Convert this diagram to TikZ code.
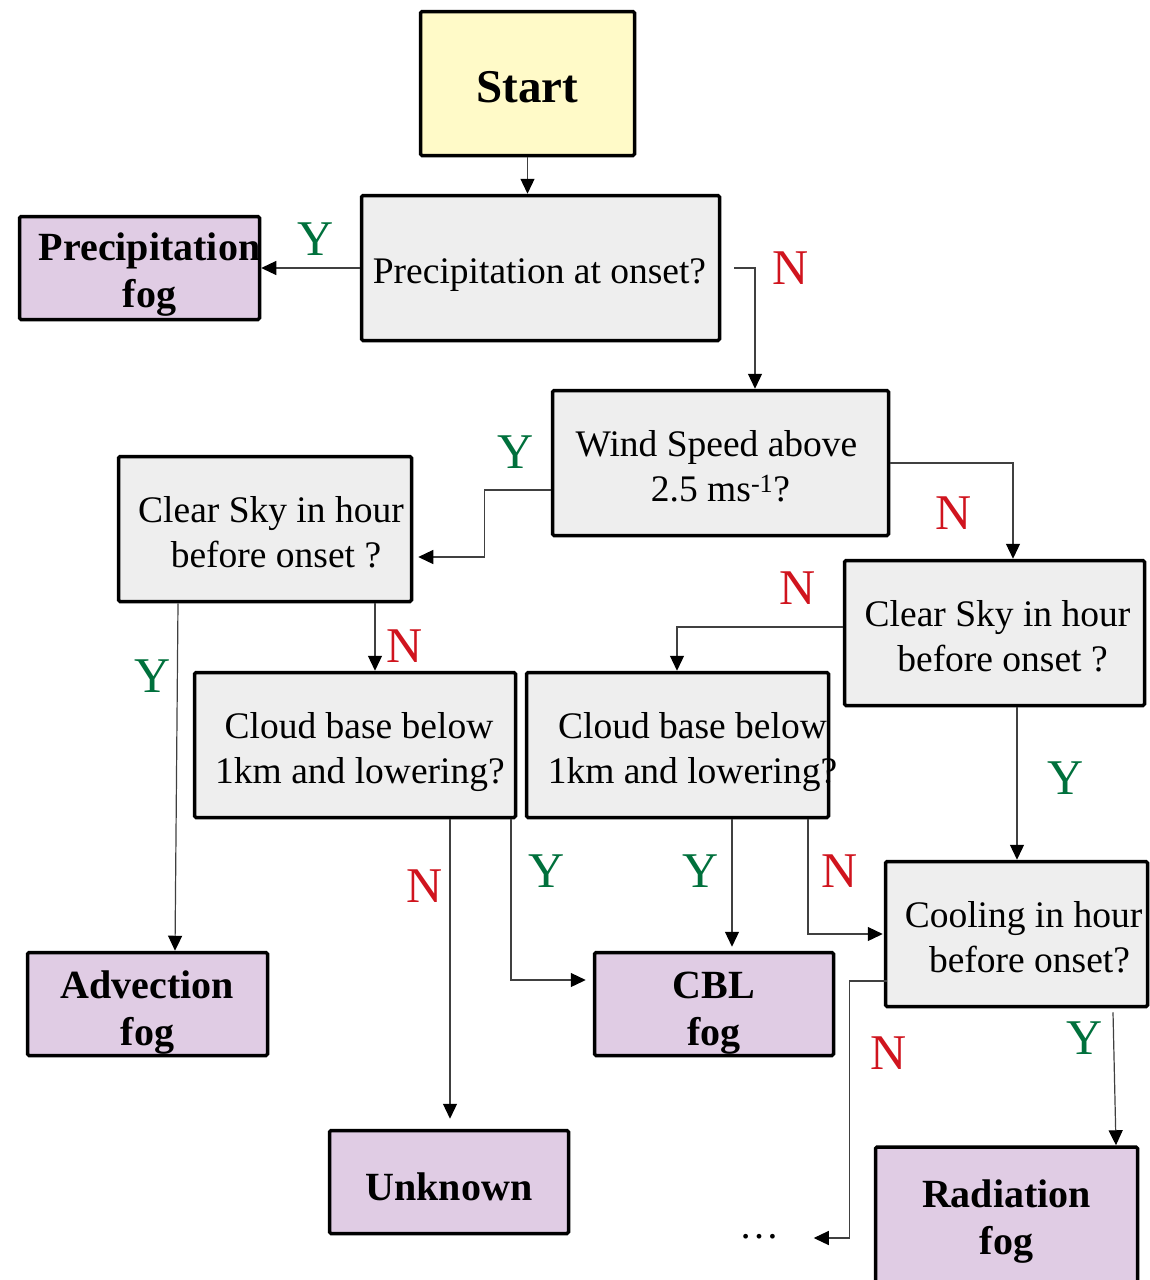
\documentclass[tikz,border=0pt]{standalone}
\usepackage{fontspec}
\setmainfont{Liberation Serif}
\usetikzlibrary{arrows.meta,calc}
\definecolor{startfill}{HTML}{FFFAC8}
\definecolor{qfill}{HTML}{EEEEEE}
\definecolor{fogfill}{HTML}{E0CCE4}
\definecolor{ygreen}{HTML}{00703C}
\definecolor{nred}{HTML}{D0141E}
\definecolor{conncol}{HTML}{404040}
% shift a line of text sideways without changing its width
\newcommand\sh[2]{\hspace*{#1}#2\hspace*{-#1}}
% invisible strut that pushes the text block down
\newcommand\upad[1]{\rule{0pt}{#1}}
\begin{document}
\begin{tikzpicture}[x=1pt,y=-1pt,
  box/.style={draw=black,line width=3.5pt,rounded corners=1.5pt,inner sep=0pt,align=center},
  qbox/.style={box,fill=qfill,font=\fontsize{37.5}{45}\selectfont},
  fogbox/.style={box,fill=fogfill,font=\fontsize{40}{47}\selectfont\bfseries},
  conn/.style={draw=conncol,line width=1.2pt,-{Triangle[length=15pt,width=14pt,color=black]}},
  ylab/.style={text=ygreen,font=\fontsize{50}{50}\selectfont,inner sep=0pt},
  nlab/.style={text=nred,font=\fontsize{50}{50}\selectfont,inner sep=0pt}]
\useasboundingbox (0,0) rectangle (1149,1280);

% boxes
\node[box,fill=startfill,minimum width=214pt,minimum height=144pt,font=\fontsize{47}{50}\selectfont\bfseries] (start) at (527.5,83.5) {\upad{39pt}Start};
\node[qbox,minimum width=358pt,minimum height=145pt] (q1) at (540.5,268) {\upad{38pt}\sh{-1pt}{Precipitation at onset?}};
\node[fogbox,minimum width=240pt,minimum height=103pt] (pfog) at (139.5,268) {\upad{40pt}\sh{10pt}{Precipitation}\\\sh{10pt}{fog}};
\node[qbox,minimum width=336pt,minimum height=145pt] (q2) at (720.5,463) {\upad{32pt}\sh{-4pt}{Wind Speed above}\\2.5 ms\textsuperscript{-1}?};
\node[qbox,minimum width=293pt,minimum height=145pt] (q3) at (265,529) {\upad{32pt}\sh{6pt}{Clear Sky in hour}\\\sh{11pt}{before onset ?}};
\node[qbox,minimum width=300pt,minimum height=145pt] (q4) at (994.5,633) {\upad{32pt}\sh{3pt}{Clear Sky in hour}\\\sh{8pt}{before onset ?}};
\node[qbox,minimum width=321pt,minimum height=145pt] (q5) at (355,745) {\upad{40pt}\sh{4pt}{Cloud base below}\\\sh{5pt}{1km and lowering?}};
\node[qbox,minimum width=302pt,minimum height=145pt] (q6) at (677.5,745) {\upad{40pt}\sh{15pt}{Cloud base below}\\\sh{15pt}{1km and lowering?}};
\node[qbox,minimum width=262pt,minimum height=145pt] (q7) at (1016.5,934) {\upad{32pt}\sh{7pt}{Cooling in hour}\\\sh{13pt}{before onset?}};
\node[fogbox,minimum width=240pt,minimum height=103pt] (afog) at (147.5,1004) {\upad{44pt}Advection\\fog};
\node[fogbox,minimum width=239pt,minimum height=103pt] (cfog) at (714,1004) {\upad{44pt}CBL\\fog};
\node[fogbox,minimum width=239pt,minimum height=103pt] (unk) at (449,1182) {\upad{38pt}Unknown};
\node[fogbox,minimum width=262pt,minimum height=150pt] (rfog) at (1006.5,1222) {Radiation\\fog};
\node[font=\fontsize{40}{40}\selectfont,inner sep=0pt] (dots) at (759,1237) {\dots};

% connectors
\draw[conn] (start.south) -- (start.south |- q1.north);
\draw[conn] (q1.west) -- (q1.west -| pfog.east);
\coordinate (c3) at ($(q1.east)+(13,0)$);
\draw[conn] (c3) -| ($(q2.north)+(34.5,0)$);
\draw[conn] ($(q2.west)+(0,27)$) -| ($(q2.west)+(-66,94)$) -- ($(q3.east)+(5,28)$);
\draw[conn] ($(q2.east)$) -| ($(q4.north)+(18.5,0)$);
\draw[conn] ($(q3.south)+(-87,0)$) -- ($(afog.north)+(27.5,0)$);
\draw[conn] ($(q3.south)+(110,0)$) -- ($(q5.north)+(20,0)$);
\draw[conn] ($(q4.west)+(0,-6)$) -| ($(q6.north)+(-0.5,0)$);
\draw[conn] ($(q4.south)+(22.5,0)$) -- ($(q7.north)+(0.5,0)$);
\draw[conn,shorten >=10pt] ($(q5.south)+(95,0)$) -- ($(unk.north)+(1,0)$);
\draw[conn] ($(q5.south)+(156,0)$) |- ($(cfog.west)+(-7,-24)$);
\draw[conn] ($(q6.south)+(54.5,0)$) -- ($(cfog.north)+(18,-4)$);
\draw[conn] ($(q6.south)+(130.5,0)$) |- ($(q7.west)+(-1,0)$);
\draw[conn] ($(q7.west)+(3,47)$) -| ($(q7.west)+(-34,304)$) -- ($(q7.west)+(-70,304)$);
\draw[conn] ($(q7.south)+(96.5,4)$) -- ($(rfog.north)+(109.5,0)$);

% labels
\node[ylab] (y1) at (316,239) {Y};
\node[nlab] (n1) at (791,268) {N};
\node[ylab] (y2) at (516,452) {Y};
\node[nlab] (n2) at (954,513) {N};
\node[nlab] (n3) at (798,588) {N};
\node[ylab] (y3) at (153,676) {Y};
\node[nlab] (n4) at (405,646) {N};
\node[ylab] (y4) at (1066,778) {Y};
\node[nlab] (n5) at (425,886) {N};
\node[ylab] (y5) at (547,871) {Y};
\node[ylab] (y6) at (701,871) {Y};
\node[nlab] (n6) at (840,871) {N};
\node[nlab] (n7) at (889,1053) {N};
\node[ylab] (y7) at (1085,1038) {Y};
\end{tikzpicture}
\end{document}
